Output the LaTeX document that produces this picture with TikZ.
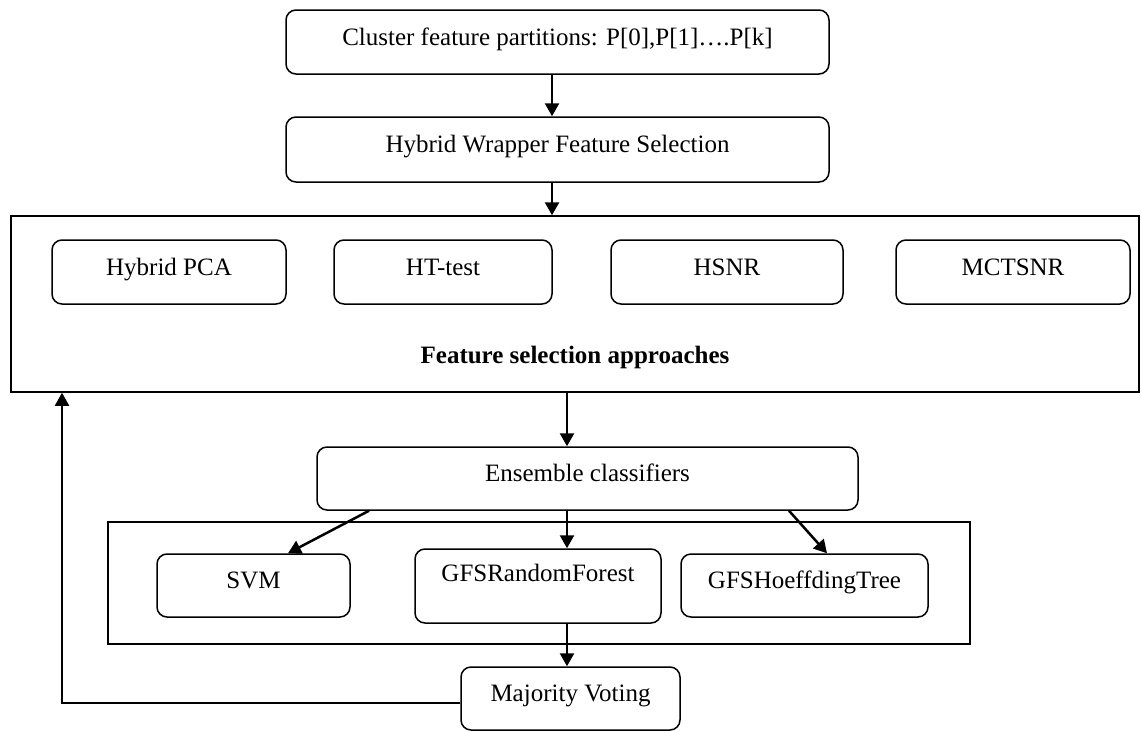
\documentclass[tikz,border=0pt]{standalone}
\usepackage{fontspec}
\setmainfont{Liberation Serif}
\usetikzlibrary{arrows.meta}
\begin{document}
\begin{tikzpicture}[x=1pt,y=-1pt,
  txt/.style={font=\fontsize{25pt}{30pt}\selectfont, text height=0.7em, text depth=0.05em},
  rbox/.style={txt, draw, line width=1.5pt, rounded corners=10pt, inner sep=0pt, fill=white},
  framebox/.style={draw, line width=1.5pt, inner sep=0pt},
  arr/.style={line width=2.5pt, -{Triangle[length=13pt,width=14pt]}},
  fbline/.style={line width=2pt, -{Triangle[length=13pt,width=14pt]}}]
\useasboundingbox (0,0) rectangle (1141,731);
% frames
\node[framebox, minimum width=1128pt, minimum height=176pt] (fs) at (575,304) {};
\node[framebox, minimum width=862pt, minimum height=122pt] (cls) at (539,583) {};
% boxes
\node[rbox, minimum width=543pt, minimum height=64pt] (top) at (557.5,42) {Cluster feature partitions: P[0],P[1]….P[k]};
\node[rbox, minimum width=543pt, minimum height=65pt] (hw) at (557.5,149.5) {Hybrid Wrapper Feature Selection};
\node[rbox, minimum width=234pt, minimum height=64pt] (pca) at (169,272) {Hybrid PCA};
\node[rbox, minimum width=218pt, minimum height=64pt] (htt) at (443,272) {HT-test};
\node[rbox, minimum width=232pt, minimum height=64pt] (hsnr) at (727,272) {HSNR};
\node[rbox, minimum width=234pt, minimum height=64pt] (mct) at (1013,272) {MCTSNR};
\node[txt, font=\fontsize{25pt}{30pt}\selectfont\bfseries] (fst) at (575,360) {Feature selection approaches};
\node[rbox, minimum width=541pt, minimum height=63pt] (ens) at (587.5,478.5) {Ensemble classifiers};
\node[rbox, minimum width=193pt, minimum height=63pt] (svm) at (253.5,585.5) {SVM};
\node[rbox, minimum width=246pt, minimum height=74pt,
  label={[txt, yshift=8pt]center:GFSRandomForest}] (rf) at (538,586) {};
\node[rbox, minimum width=247pt, minimum height=63pt] (hft) at (804.5,585.5) {GFSHoeffdingTree};
\node[rbox, minimum width=219pt, minimum height=63pt] (maj) at (570.5,698.5) {Majority Voting};
% connector x positions
\coordinate (a1) at (552,0);
\coordinate (a2) at (567,0);
\coordinate (s1) at (369,0);
\coordinate (s2) at (288,0);
\coordinate (h1) at (789,0);
\coordinate (h2) at (827,0);
\coordinate (fb) at (62,703);
% connectors
\draw[arr] (top.south -| a1) -- (hw.north -| a1);
\draw[arr] (hw.south -| a1) -- (fs.north -| a1);
\draw[arr] (fs.south -| a2) -- (ens.north -| a2);
\draw[arr] (ens.south -| a2) -- (rf.north -| a2);
\draw[arr] (ens.south -| s1) -- (svm.north -| s2);
\draw[arr] (ens.south -| h1) -- (hft.north -| h2);
\draw[arr] (rf.south -| a2) -- (maj.north -| a2);
\draw[fbline] (maj.west |- fb) -- (fb) -- (fb |- fs.south);
\end{tikzpicture}
\end{document}
